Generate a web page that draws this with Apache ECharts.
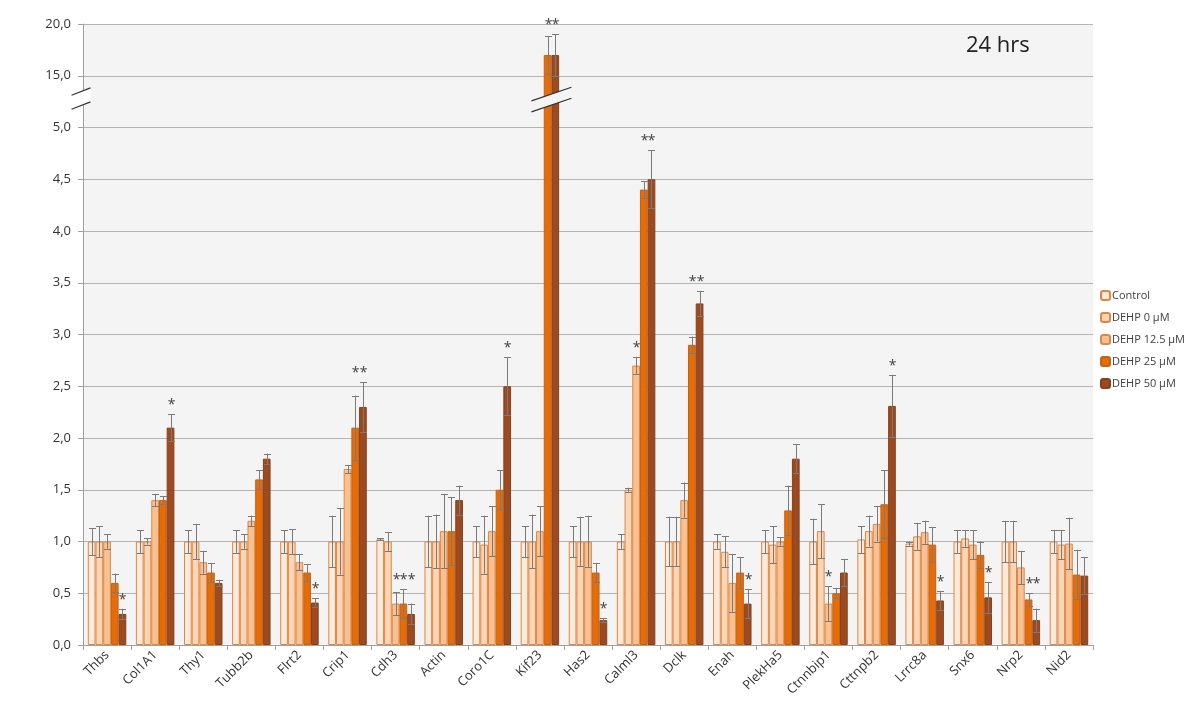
<!DOCTYPE html>
<html><head><meta charset="utf-8">
<script src="https://cdn.jsdelivr.net/npm/echarts@6/dist/echarts.min.js"></script>
<style>html,body{margin:0;padding:0;background:#fff}#c{width:1200px;height:717px}</style>
</head><body><div id="c"></div>
<script>
const categories = ['Thbs','Col1A1','Thy1','Tubb2b','Flrt2','Crip1','Cdh3','Actin','Coro1C','Kif23','Has2','Calml3','Dclk','Enah','PlekHa5','Ctnnbip1','Cttnpb2','Lrrc8a','Snx6','Nrp2','Nid2'];
const seriesNames = ['Control','DEHP 0 µM','DEHP 12.5 µM','DEHP 25 µM','DEHP 50 µM'];
const control = [1.0,1.0,1.0,1.0,1.0,1.0,1.02,1.0,1.0,1.0,1.0,1.0,1.0,1.0,1.0,1.0,1.02,0.98,1.0,1.0,1.0];
const dehp0   = [1.0,1.0,1.0,1.0,1.0,1.0,1.0,1.0,0.97,1.0,1.0,1.5,1.0,0.9,0.97,1.1,1.1,1.05,1.03,1.0,0.97];
const dehp125 = [1.0,1.4,0.8,1.2,0.8,1.7,0.4,1.1,1.1,1.1,1.0,2.7,1.4,0.6,1.0,0.4,1.17,1.09,0.97,0.75,0.98];
const dehp25  = [0.6,1.4,0.7,1.6,0.7,2.1,0.4,1.1,1.5,17.0,0.7,4.4,2.9,0.7,1.3,0.5,1.36,0.97,0.87,0.44,0.68];
const dehp50  = [0.3,2.1,0.6,1.8,0.41,2.3,0.3,1.4,2.5,17.0,0.24,4.5,3.3,0.4,1.8,0.7,2.31,0.43,0.46,0.24,0.67];
const errControl = [0.13,0.11,0.11,0.11,0.11,0.25,0.01,0.25,0.15,0.15,0.15,0.07,0.24,0.07,0.11,0.22,0.13,0.02,0.11,0.2,0.11];
const errDehp0   = [0.15,0.03,0.17,0.07,0.12,0.32,0.09,0.26,0.28,0.26,0.24,0.02,0.24,0.15,0.18,0.26,0.15,0.13,0.08,0.2,0.14];
const errDehp125 = [0.07,0.06,0.11,0.05,0.08,0.04,0.11,0.36,0.24,0.24,0.25,0.08,0.17,0.28,0.04,0.17,0.17,0.11,0.14,0.16,0.25];
const errDehp25  = [0.09,0.04,0.09,0.09,0.08,0.31,0.14,0.33,0.19,1.8,0.09,0.08,0.08,0.15,0.24,0.05,0.33,0.17,0.13,0.06,0.24];
const errDehp50  = [0.05,0.13,0.03,0.05,0.04,0.24,0.1,0.14,0.28,2.0,0.02,0.28,0.12,0.14,0.14,0.13,0.3,0.09,0.15,0.11,0.18];
// significance marks (asterisk above the bar)
const starControl = [0,0,0,0,0,0,0,0,0,0,0,0,0,0,0,0,0,0,0,0,0];
const starDehp0   = [0,0,0,0,0,0,0,0,0,0,0,0,0,0,0,0,0,0,0,0,0];
const starDehp125 = [0,0,0,0,0,0,1,0,0,0,0,1,0,0,0,1,0,0,0,0,0];
const starDehp25  = [0,0,0,0,0,1,1,0,0,1,0,1,1,0,0,0,0,0,0,1,0];
const starDehp50  = [1,1,0,0,1,1,1,0,1,1,1,1,1,1,0,0,1,1,1,1,0];
const yTickLabels = ['0,0','0,5','1,0','1,5','2,0','2,5','3,0','3,5','4,0','4,5','5,0','15,0','20,0'];
const title = '24 hrs';

const values = [control, dehp0, dehp125, dehp25, dehp50];
const errs = [errControl, errDehp0, errDehp125, errDehp25, errDehp50];
const stars = [starControl, starDehp0, starDehp125, starDehp25, starDehp50];
const fills = ['#FDE9D9','#FCD5B4','#FAC090','#E46C0A','#9C4B20'];
const borders = ['#D9894A','#D9894A','#D9894A','#C9600C','#8A3F18'];

// broken axis: 0..5 linear, 15..20 mapped onto 5.5..6
const BREAK_LO = 5, BREAK_HI = 15;
const mapV = v => v <= BREAK_LO ? v : (BREAK_LO + 0.5) + (v - BREAK_HI) * 0.1;

const n = categories.length;
const errData = [];
for (let s = 0; s < 5; s++) {
  for (let i = 0; i < n; i++) {
    const v = values[s][i], e = errs[s][i];
    const hi = v + e;
    let starBase = -1;
    if (stars[s][i]) {
      starBase = mapV(hi);
      for (const t of [s - 1, s + 1]) {
        if (t >= 0 && t < 5 && stars[t][i]) {
          const h2 = mapV(values[t][i] + errs[t][i]);
          if (Math.abs(h2 - starBase) < 0.5) starBase = Math.max(starBase, h2);
        }
      }
      for (const t of [s - 2, s + 2]) {
        if (t >= 0 && t < 5 && stars[t][i] && stars[(s + t) / 2][i]) {
          const h2 = mapV(values[t][i] + errs[t][i]);
          if (Math.abs(h2 - starBase) < 0.5) starBase = Math.max(starBase, h2);
        }
      }
    }
    errData.push([i, s, mapV(v - e), mapV(hi), starBase]);
  }
}
const breakCats = [];
for (let i = 0; i < n; i++) if (values.some(a => a[i] > BREAK_LO)) breakCats.push([i, 5.27]);

const chart = echarts.init(document.getElementById('c'));
const FONT = 'Open Sans';
const option = {
  animation: false,
  backgroundColor: '#fff',
  textStyle: { fontFamily: FONT },
  grid: { left: 83, right: 107, top: 24, bottom: 72, show: true, backgroundColor: '#F4F4F4', borderWidth: 0 },
  legend: {
    data: seriesNames, orient: 'vertical', left: 1095, top: 285,
    itemWidth: 9, itemHeight: 9, itemGap: 11,
    textStyle: { fontSize: 11, color: '#404040', fontFamily: FONT, padding: [0, 0, 0, -3] }
  },
  xAxis: {
    type: 'category', data: categories,
    axisLine: { lineStyle: { color: '#A0A0A0' } },
    axisTick: { show: true, length: 5, lineStyle: { color: '#A0A0A0' } },
    axisLabel: { rotate: 45, fontSize: 13, color: '#333', margin: 8, interval: 0 }
  },
  yAxis: {
    type: 'value', min: 0, max: 6, interval: 0.5,
    axisLine: { show: true, lineStyle: { color: '#A0A0A0' } },
    axisTick: { show: true, length: 5, lineStyle: { color: '#A0A0A0' } },
    splitLine: { lineStyle: { color: '#B4B4B4' } },
    axisLabel: { fontSize: 13, color: '#333', margin: 12,
      formatter: v => yTickLabels[Math.round(v / 0.5)] || '' }
  },
  series: [
    ...seriesNames.map((name, s) => ({
      name, type: 'bar', data: values[s].map(mapV),
      barGap: '0%', barCategoryGap: '20%',
      itemStyle: { color: fills[s], borderColor: borders[s], borderWidth: 1 },
      z: 2
    })),
    {
      type: 'custom', name: 'err', data: errData, z: 5, silent: true,
      renderItem: (params, api) => {
        const i = api.value(0), s = api.value(1);
        const lo = api.coord([i, api.value(2)]), hi = api.coord([i, api.value(3)]);
        const band = api.size([1, 0])[0];
        const bw = band * 0.8 / 5;
        const cx = Math.round(lo[0] - band * 0.4 + (s + 0.5) * bw) + 0.5;
        const style = { stroke: '#7A7A7A', lineWidth: 1 };
        const ch = [
          { type: 'line', shape: { x1: cx, y1: lo[1], x2: cx, y2: hi[1] }, style },
          { type: 'line', shape: { x1: cx - 3.5, y1: Math.round(hi[1]) + 0.5, x2: cx + 3.5, y2: Math.round(hi[1]) + 0.5 }, style },
          { type: 'line', shape: { x1: cx - 3.5, y1: Math.round(lo[1]) + 0.5, x2: cx + 3.5, y2: Math.round(lo[1]) + 0.5 }, style }
        ];
        const sb = api.value(4);
        if (sb >= 0) {
          const p = api.coord([i, sb]);
          ch.push({ type: 'text', x: cx, y: p[1] - 2,
            style: { text: '*', fontSize: 14, fill: '#404040', align: 'center', verticalAlign: 'bottom', fontFamily: FONT } });
        }
        return { type: 'group', children: ch };
      }
    },
    {
      type: 'custom', name: 'barBreak', data: breakCats, z: 6, silent: true,
      renderItem: (params, api) => {
        const i = api.value(0);
        const c = api.coord([i, api.value(1)]);
        const band = api.size([1, 0])[0];
        const cx = c[0] - band * 0.4 + 4 * band * 0.8 / 5;
        const hw = 20, dy = 6.8, gap = 5.5;
        const ls = { stroke: '#333', lineWidth: 1.3 };
        return { type: 'group', children: [
          { type: 'polygon', shape: { points: [[cx - hw, c[1] - gap + dy], [cx + hw, c[1] - gap - dy], [cx + hw, c[1] + gap - dy], [cx - hw, c[1] + gap + dy]] }, style: { fill: '#F4F4F4' } },
          { type: 'line', shape: { x1: cx - hw, y1: c[1] - gap + dy, x2: cx + hw, y2: c[1] - gap - dy }, style: ls },
          { type: 'line', shape: { x1: cx - hw, y1: c[1] + gap + dy, x2: cx + hw, y2: c[1] + gap - dy }, style: ls }
        ] };
      }
    },
    {
      type: 'custom', name: 'axisBreak', data: [[0, 5.28]], z: 6, silent: true, clip: false,
      renderItem: (params, api) => {
        const c = api.coord([0, api.value(1)]);
        const x0 = params.coordSys.x - 2;
        const hw = 9.5, dy = 3.7, gap = 7;
        const ls = { stroke: '#333', lineWidth: 1.2 };
        return { type: 'group', children: [
          { type: 'polygon', shape: { points: [[x0 - hw, c[1] - gap + dy], [x0 + hw, c[1] - gap - dy], [x0 + hw, c[1] + gap - dy], [x0 - hw, c[1] + gap + dy]] }, style: { fill: '#fff' } },
          { type: 'line', shape: { x1: x0 - hw, y1: c[1] - gap + dy, x2: x0 + hw, y2: c[1] - gap - dy }, style: ls },
          { type: 'line', shape: { x1: x0 - hw, y1: c[1] + gap + dy, x2: x0 + hw, y2: c[1] + gap - dy }, style: ls }
        ] };
      }
    }
  ],
  graphic: [{ type: 'text', left: 966, top: 35, style: { text: title, fontSize: 22, fill: '#222', fontFamily: FONT } }]
};
chart.setOption(option);
</script></body></html>
